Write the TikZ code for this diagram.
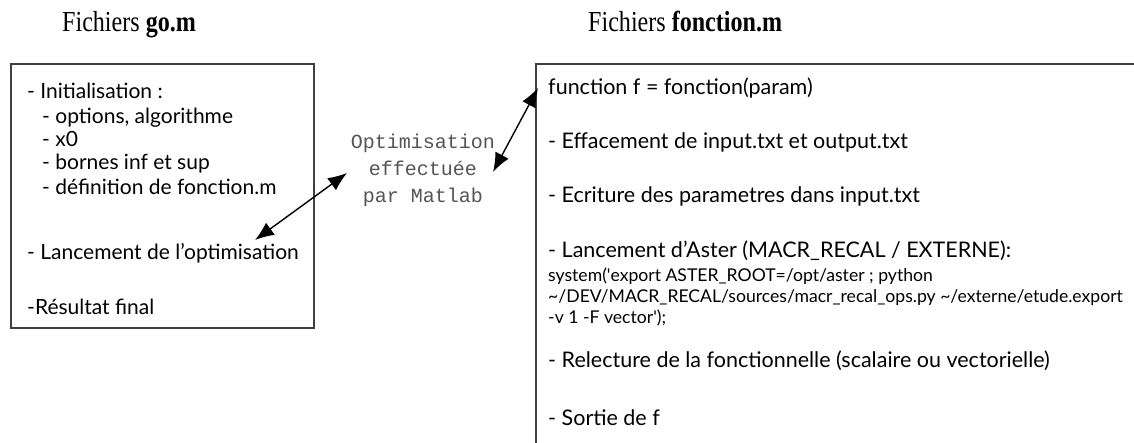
\documentclass[tikz,border=0pt]{standalone}
\usepackage{fontspec}
\setmainfont{Liberation Serif}
\newfontfamily\comic{Lato}
\newfontfamily\mono{Liberation Mono}
\usetikzlibrary{arrows.meta}
\definecolor{frame}{HTML}{404040}
\definecolor{monogray}{HTML}{555555}
\begin{document}
\begin{tikzpicture}[x=1pt,y=-1pt,
  title/.style={anchor=base west, inner sep=0pt, font=\fontsize{29}{29}\selectfont},
  ltxt/.style={anchor=base west, inner sep=0pt, font=\comic\fontsize{21}{21}\selectfont},
  txt/.style={anchor=base west, inner sep=0pt, font=\comic\fontsize{21.5}{21.5}\selectfont},
  small/.style={anchor=base west, inner sep=0pt, font=\comic\fontsize{17.6}{17.6}\selectfont},
  mid/.style={anchor=base, inner sep=0pt, text=monogray, font=\mono\fontsize{20}{20}\selectfont},
  box/.style={draw=frame, line width=1.6pt, anchor=north west, inner sep=0pt},
  link/.style={line width=1.4pt, {Latex[length=19pt,width=15pt]}-{Latex[length=19pt,width=15pt]}}]
\useasboundingbox (0,0) rectangle (1134,442);
\clip (0,0) rectangle (1134,442);
% titles
\node[title] (t1) at (62,31) {\scalebox{0.83}[1]{Fichiers \textbf{go.m}}};
\node[title] (t2) at (588,31) {\scalebox{0.83}[1]{Fichiers \textbf{fonction.m}}};
% boxes
\node[box, minimum width=303pt, minimum height=264pt] (gobox) at (10,63) {};
\node[box, minimum width=700pt, minimum height=500pt] (fbox) at (535,63) {};
% left text
\node[ltxt] (g1) at (27,98) {- Initialisation :};
\node[ltxt] (g2) at (42,123) {- options, algorithme};
\node[ltxt] (g3) at (42,146) {- x0};
\node[ltxt] (g4) at (42,169) {- bornes inf et sup};
\node[ltxt] (g5) at (42,194) {- définition de fonction.m};
\node[ltxt] (g6) at (27,259) {- Lancement de l’optimisation};
\node[ltxt] (g7) at (27,314) {-Résultat final};
% right text
\node[txt] (f1) at (548,94) {function f = fonction(param)};
\node[txt] (f2) at (548,148) {- Effacement de input.txt et output.txt};
\node[txt] (f3) at (548,202) {- Ecriture des parametres dans input.txt};
\node[txt] (f4) at (548,257) {- Lancement d’Aster (MACR\_RECAL / EXTERNE):};
\node[small] (f5) at (548,281) {system(\textquotesingle export ASTER\_ROOT=/opt/aster ; python};
\node[small] (f6) at (548,302) {\textasciitilde/DEV/MACR\_RECAL/sources/macr\_recal\_ops.py \textasciitilde/externe/etude.export};
\node[small] (f7) at (548,323) {-v 1 -F vector\textquotesingle);};
\node[txt] (f8) at (548,367) {- Relecture de la fonctionnelle (scalaire ou vectorielle)};
\node[txt] (f9) at (548,425) {- Sortie de f};
% middle text
\node[mid] (m1) at (423,148) {Optimisation};
\node[mid] (m2) at (423,175) {effectuée};
\node[mid] (m3) at (423,202) {par Matlab};
% connectors
\coordinate (a1s) at (255,240);
\coordinate (a1e) at (347,173);
\coordinate (a2s) at (493,172);
\coordinate (a2e) at (538,88);
\draw[link] (a1s) -- (a1e);
\draw[link] (a2s) -- (a2e);
\end{tikzpicture}
\end{document}
